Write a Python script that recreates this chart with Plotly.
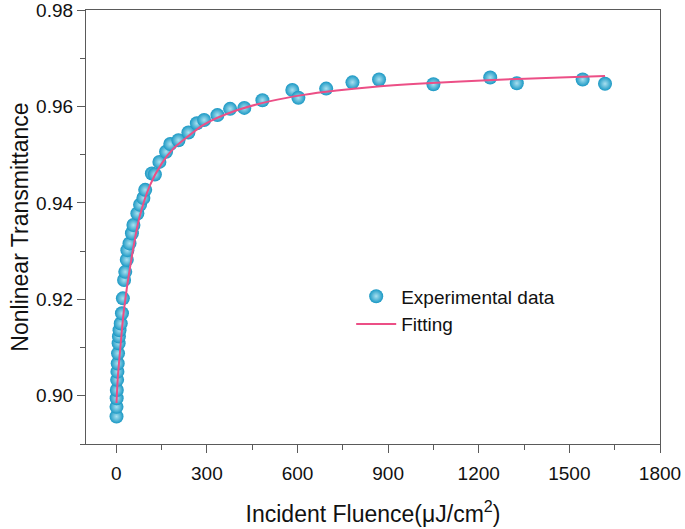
import plotly.graph_objects as go

# Experimental data (fluence in uJ/cm^2, nonlinear transmittance)
exp_fluence = [1, 1, 1.5, 2, 3, 4, 5, 6, 8, 9, 11, 15, 19, 22, 26, 30, 35, 37, 44, 52, 57,
               70, 79, 90, 96, 118, 128, 143, 165, 179, 206, 239, 267, 291, 335, 377, 424,
               484, 583, 603, 695, 782, 870, 1050, 1238, 1326, 1544, 1618]
exp_trans = [0.8957, 0.8977, 0.8995, 0.9012, 0.9033, 0.9050, 0.9067, 0.9088, 0.9109, 0.9123,
             0.9136, 0.9150, 0.9171, 0.9202, 0.9240, 0.9257, 0.9282, 0.9302, 0.9316, 0.9337,
             0.9354, 0.9378, 0.9396, 0.9410, 0.9427, 0.9461, 0.9459, 0.9485, 0.9506, 0.9522,
             0.9530, 0.9546, 0.9565, 0.9572, 0.9582, 0.9595, 0.9597, 0.9613, 0.9634, 0.9618,
             0.9637, 0.9650, 0.9656, 0.9646, 0.9660, 0.9648, 0.9656, 0.9647]

# Fitting curve
fit_fluence = [1, 5, 13, 26, 48, 77, 112, 151, 190, 234, 289, 399, 510, 620, 730, 840,
               1028, 1248, 1469, 1618]
fit_trans = [0.8985, 0.9035, 0.9095, 0.9180, 0.9275, 0.9370, 0.9437, 0.9482, 0.9513,
             0.9536, 0.9562, 0.9592, 0.9611, 0.9624, 0.9633, 0.9640, 0.9648, 0.9655,
             0.9660, 0.9663]

x_ticks = [0, 300, 600, 900, 1200, 1500, 1800]
y_ticks = [0.90, 0.92, 0.94, 0.96, 0.98]

FONT = "Liberation Sans, Arial, sans-serif"
AXC = "#5a5a5a"

fig = go.Figure()
fig.add_trace(go.Scatter(
    x=exp_fluence, y=exp_trans, mode="markers", name="Experimental data",
    marker=dict(size=14, color="#1a98c4",
                gradient=dict(type="radial", color="#a8e0f0"),
                line=dict(width=0)),
))
fig.add_trace(go.Scatter(
    x=fit_fluence, y=fit_trans, mode="lines", name="Fitting",
    line=dict(color="#ec4f86", width=2, shape="spline", smoothing=0.8),
))

axis_common = dict(
    showline=True, linecolor=AXC, linewidth=1.3, mirror=True,
    ticks="outside", ticklen=8, tickcolor=AXC, tickwidth=1.2,
    showgrid=False, zeroline=False, automargin=False,
    ticklabeloverflow="allow",
    tickfont=dict(family=FONT, size=19, color="#111"),
    minor=dict(ticks="outside", ticklen=5, tickcolor=AXC, tickwidth=1.2, showgrid=False),
)

fig.update_xaxes(
    range=[-100, 1800], tickvals=x_ticks, ticktext=[str(v) for v in x_ticks],
    title=dict(text="Incident Fluence(μJ/cm<sup>2</sup>)",
               font=dict(family=FONT, size=23, color="#111"), standoff=22),
    minor_dtick=150, minor_tick0=0, ticklabelstandoff=4,
    **axis_common,
)
fig.update_yaxes(
    range=[0.89, 0.98], tickvals=y_ticks, ticktext=[f"{v:.2f}" for v in y_ticks],
    title=dict(text="Nonlinear Transmittance",
               font=dict(family=FONT, size=23, color="#111"), standoff=1),
    minor_dtick=0.01, minor_tick0=0.89,
    **axis_common,
)

fig.update_layout(
    width=685, height=529,
    margin=dict(l=86, r=25, t=10, b=85),
    plot_bgcolor="white", paper_bgcolor="white",
    font=dict(family=FONT, color="#111"),
    legend=dict(x=0.462, y=0.384, xanchor="left", yanchor="top",
                bgcolor="rgba(0,0,0,0)", font=dict(family=FONT, size=19),
                itemwidth=40, tracegroupgap=0),
    showlegend=True,
)

fig.write_html("out.html", config={"displayModeBar": False},
               post_script="document.body.style.margin='0px';")
